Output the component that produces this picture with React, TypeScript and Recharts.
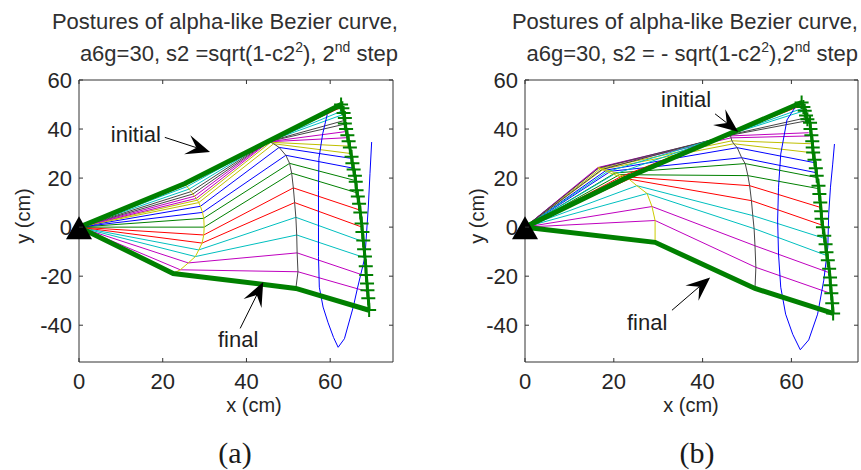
import React from 'react';
import { ComposedChart, Line, XAxis, YAxis, ReferenceLine, ReferenceDot } from 'recharts';

type P = [number, number];

// ---------- shared axis settings ----------
const xTicks = [0, 20, 40, 60];
const yTicks = [-40, -20, 0, 20, 40, 60];
const xDomain: [number, number] = [0, 75];
const yDomain: [number, number] = [-55, 60];

// MATLAB default colour letters
const matlab: Record<string, string> = {
  b: '#0000ff', g: '#008000', r: '#ff0000', c: '#00bfbf', m: '#bf00bf', y: '#bfbf00', k: '#454545',
};

const base: P = [0, 0];

// ---------- panel (a): s2 = +sqrt(1-c2^2) ----------
// intermediate postures, listed from bottom (near final) to top (near initial)
const colorsA = ['m', 'm', 'c', 'c', 'r', 'r', 'g', 'g', 'b', 'b', 'y', 'y', 'm', 'm', 'k', 'k', 'c', 'c', 'r'];
const joint1A: P[] = [
  [24.2, -17.4], [26.1, -14.6], [27.8, -12], [28.6, -9.3], [29.4, -6.5], [29.8, -3.2], [29.9, 0],
  [29.8, 3.6], [29.5, 6], [29, 8.5], [28.6, 10], [28.3, 11], [28, 11.7], [27.6, 12.6], [27.2, 13.5],
  [26.8, 14.5], [26.3, 15.5], [25.8, 16.5], [25.5, 17.2],
];
const joint2A: P[] = [
  [52.3, -18.2], [52.1, -10.5], [52, -3.2], [51.8, 4], [51.5, 10], [51.2, 16], [50.8, 22],
  [50.3, 26], [49.4, 29.3], [47.8, 32.5], [46.5, 34], [45.8, 34.6], [45.4, 34.8], [45.2, 34.8], [45.1, 34.8],
  [45, 34.8], [45, 34.8], [45, 34.8], [45, 34.8],
];
const endA: P[] = [
  [68.9, -26.3], [68.6, -20], [68.3, -12.5], [68, -6], [67.6, 0], [67, 7], [66.4, 14],
  [66, 19], [65.6, 24], [65.2, 28], [65, 30], [64.7, 33], [64.3, 36.5], [63.9, 39], [63.5, 42],
  [63.4, 43.5], [63.2, 46], [63, 47.5], [62.8, 49],
];
const initialA: P[] = [[0, 0], [25.3, 17.8], [45, 34.8], [62.6, 50]];
const finalA: P[] = [[0, 0], [22.5, -18.9], [51.8, -25], [69.3, -33.9]];
const endTraceA: P[] = [
  [62.6, 50], [62.9, 48.5], [63.2, 46.5], [63.5, 44.5], [63.5, 42.3], [63.8, 40], [64.1, 37.5],
  [64.4, 35], [64.7, 32.5], [65.1, 28.7], [65.3, 26], [65.6, 23.5], [65.9, 21], [66.1, 18.5],
  [66.3, 15], [66.6, 12.5], [66.9, 9.5], [67.2, 6], [67.5, 1.5], [67.7, -2], [67.9, -5.5],
  [68.1, -9], [68.3, -12], [68.5, -16], [68.6, -19.5], [68.8, -23], [68.9, -25.7], [69.1, -29], [69.3, -33.8],
];
const tipTraceA: P[] = [
  [59.3, 46], [58.2, 38], [57.3, 28], [57.2, 15], [57.2, 0], [57.2, -12], [57.4, -24.5], [58.3, -32.6],
  [59.5, -39], [60.8, -45], [61.9, -49], [63.4, -45.5], [65.5, -32.6], [66.5, -25], [68.3, -12.2],
  [69.1, 8.2], [69.5, 21.8], [69.9, 34.7],
];

// ---------- panel (b): s2 = -sqrt(1-c2^2) ----------
const colorsB = ['m', 'm', 'c', 'c', 'r', 'r', 'g', 'g', 'b', 'b', 'y', 'y', 'm', 'm', 'k', 'k', 'c', 'c', 'r'];
const joint1B: P[] = [
  [29.3, 2.7], [28.6, 8.4], [27.5, 13.7], [25.2, 16.9], [23.4, 19.6], [22.3, 20.6], [21.3, 21.4],
  [20.3, 22.1], [19.3, 22.8], [18.4, 23.3], [17.7, 23.7], [17.1, 24], [16.6, 24.2], [16.4, 24.3],
  [16.6, 24.1], [17.3, 23.5], [18.5, 22.6], [20, 21.5], [21.5, 20.5],
];
const joint2B: P[] = [
  [52, -16.4], [51.8, -7.6], [51.6, -0.6], [51.3, 4.7], [51, 10.8], [50.6, 16.9], [50.2, 21],
  [49.6, 25.9], [48.8, 28.3], [47.8, 32.4], [47, 34], [46.6, 35.2], [46.4, 36.4], [46.3, 37.2],
  [46.3, 37.5], [46.3, 37.7], [46.3, 37.9], [46.3, 38], [46.3, 38.2],
];
const endB: P[] = [
  [68.8, -27], [68.4, -18.5], [68, -11.6], [67.6, -4.7], [67.1, 0.7], [66.6, 8], [66.1, 15.7],
  [65.8, 20.2], [65.6, 22.2], [65.2, 26.3], [64.9, 30.3], [64.5, 34], [64.1, 37.2], [63.9, 38.5],
  [63.3, 43.3], [63.1, 44.5], [62.8, 47.4], [62.6, 48.5], [62.4, 49.7],
];
const initialB: P[] = [[0, 0], [22.5, 19.8], [46.3, 38.3], [62.3, 50.8]];
const finalB: P[] = [[0, 0], [29.3, -6.2], [51.8, -25], [69.4, -35.2]];
const endTraceB: P[] = [
  [62.3, 50.8], [62.7, 49], [63, 47.5], [63.3, 45.5], [63.6, 44], [64.2, 42.6], [64.3, 40],
  [64.5, 37.5], [64.7, 35], [64.8, 32.5], [64.9, 30.4], [65.2, 27.5], [65.5, 24], [65.7, 21],
  [66.1, 16.9], [66.3, 13.5], [66.5, 10], [66.7, 6.5], [66.8, 3.4], [67.1, 0], [67.4, -3.5],
  [67.7, -7], [67.9, -10.2], [68.2, -13.5], [68.5, -17], [68.7, -20.5], [68.8, -23.7], [69, -27],
  [69.2, -31], [69.4, -35.2],
];
const tipTraceB: P[] = [
  [61.6, 51], [59, 43.7], [57.6, 29.8], [57.1, 16.3], [56.9, 2.9], [57.1, -11], [57.6, -24.5],
  [58.7, -35.5], [60.3, -43.7], [62, -50], [63.9, -46], [65.9, -35.5], [67.3, -21.6], [68.2, -8.2],
  [68.4, 5.3], [68.8, 16.3], [69.3, 25.7], [69.7, 33.9],
];

// ---------- annotations (text position, arrow tail, arrow tip) ----------
type Note = { text: string; at: P; tail: P; tip: P };
const notesA: Note[] = [
  { text: 'initial', at: [13.6, 37.8], tail: [20.5, 36.6], tip: [31.3, 30.6] },
  { text: 'final', at: [38, -45.7], tail: [38.5, -41.3], tip: [44, -22.4] },
];
const notesB: Note[] = [
  { text: 'initial', at: [36.3, 52.3], tail: [42.8, 46.2], tip: [48, 38.9] },
  { text: 'final', at: [27.5, -38.7], tail: [33.1, -33.9], tip: [41.7, -20.5] },
];

const SANS = '"Liberation Sans", Arial, Helvetica, sans-serif';
const SERIF = '"Liberation Serif", "Times New Roman", serif';
const AXIS = '#333333';
const TEXT = '#262626';
const CHART_H = 470;
const X_TICK_MARGIN = 11;
const Y_TICK_MARGIN = 7;
const X_AXIS_H = 30;
const Y_AXIS_W = 60;

const toPts = (arr: P[]) => arr.map(([x, y]) => ({ x, y }));

const renderXTick = (p: any) => {
  const axisY = p.y - X_TICK_MARGIN;
  return (
    <g>
      <line x1={p.x} x2={p.x} y1={axisY} y2={axisY - 4} stroke={AXIS} />
      <text x={p.x} y={p.y} dy={16} textAnchor="middle" fontSize={22} fill={TEXT} fontFamily={SANS}>
        {p.payload.value}
      </text>
    </g>
  );
};
const renderYTick = (p: any) => {
  const axisX = p.x + Y_TICK_MARGIN;
  return (
    <g>
      <line x1={axisX} x2={axisX + 4} y1={p.y} y2={p.y} stroke={AXIS} />
      <text x={p.x} y={p.y} dy={7.8} textAnchor="end" fontSize={22} fill={TEXT} fontFamily={SANS}>
        {p.payload.value}
      </text>
    </g>
  );
};

const plusDot = (p: any) => {
  const { cx, cy, index } = p;
  if (cx == null || cy == null) return <g key={`pl${index}`} />;
  return (
    <path key={`pl${index}`} d={`M${cx - 7},${cy}h14M${cx},${cy - 7}v14`} stroke="#008000" strokeWidth={2} fill="none" />
  );
};
const triangleShape = (p: any) => {
  const { cx, cy } = p;
  if (cx == null || cy == null) return <g />;
  return <path d={`M${cx},${cy - 11}L${cx + 13},${cy + 12}L${cx - 13},${cy + 12}Z`} fill="#000" />;
};

const arrowShape = (p: any) => {
  const { x1, y1, x2, y2 } = p;
  const dx = x2 - x1;
  const dy = y2 - y1;
  const len = Math.hypot(dx, dy) || 1;
  const ux = dx / len;
  const uy = dy / len;
  const nx = -uy;
  const ny = ux;
  const L = 24;
  const W = 10;
  const notchX = x2 - ux * L * 0.6;
  const notchY = y2 - uy * L * 0.6;
  const bx = x2 - ux * L;
  const by = y2 - uy * L;
  const d = `M${x2},${y2}L${bx + nx * W},${by + ny * W}L${notchX},${notchY}L${bx - nx * W},${by - ny * W}Z`;
  return (
    <g>
      <line x1={x1} y1={y1} x2={notchX} y2={notchY} stroke="#000" strokeWidth={1} />
      <path d={d} fill="#000" />
    </g>
  );
};

type Margin = { top: number; right: number; bottom: number; left: number };
type PanelProps = {
  left: number;
  width: number;
  margin: Margin;
  colors: string[];
  j1: P[];
  j2: P[];
  ends: P[];
  initial: P[];
  final: P[];
  endTrace: P[];
  tipTrace: P[];
  notes: Note[];
};

function Panel(props: PanelProps) {
  const { left, width, margin, colors, j1, j2, ends, initial, final, endTrace, tipTrace, notes } = props;
  const joint1Trace = [initial[1], ...[...j1].reverse(), final[1]];
  const joint2Trace = [initial[2], ...[...j2].reverse(), final[2]];
  return (
    <div style={{ position: 'absolute', left, top: 0 }}>
      <ComposedChart width={width} height={CHART_H} margin={margin}>
        <XAxis
          type="number" dataKey="x" domain={xDomain} ticks={xTicks} interval={0}
          height={X_AXIS_H} tickSize={0} tickMargin={X_TICK_MARGIN} tick={renderXTick} tickLine={false}
          axisLine={{ stroke: AXIS }} allowDataOverflow
        />
        <YAxis
          type="number" dataKey="y" domain={yDomain} ticks={yTicks} interval={0}
          width={Y_AXIS_W} tickSize={0} tickMargin={Y_TICK_MARGIN} tick={renderYTick} tickLine={false}
          axisLine={{ stroke: AXIS }} allowDataOverflow
        />
        {colors.map((c, i) => (
          <Line
            key={`posture-${i}`} name={`posture-${i}`} data={toPts([base, j1[i], j2[i], ends[i]])}
            dataKey="y" stroke={matlab[c]} strokeWidth={1} dot={false} isAnimationActive={false}
            type="linear" legendType="none"
          />
        ))}
        <Line name="joint1" data={toPts(joint1Trace)} dataKey="y" stroke="#cccc00" strokeWidth={1} dot={false} isAnimationActive={false} />
        <Line name="joint2" data={toPts(joint2Trace)} dataKey="y" stroke="#454545" strokeWidth={1} dot={false} isAnimationActive={false} />
        <Line name="tip" data={toPts(tipTrace)} dataKey="y" stroke="#0000ff" strokeWidth={1} dot={false} isAnimationActive={false} />
        <Line name="initial" data={toPts(initial)} dataKey="y" stroke="#008000" strokeWidth={5} dot={false} isAnimationActive={false} />
        <Line name="final" data={toPts(final)} dataKey="y" stroke="#008000" strokeWidth={5} dot={false} isAnimationActive={false} />
        <Line name="end" data={toPts(endTrace)} dataKey="y" stroke="#008000" strokeWidth={3} dot={plusDot} isAnimationActive={false} />
        <ReferenceDot x={base[0]} y={base[1]} r={12} shape={triangleShape} ifOverflow="visible" />
        {notes.map((n, i) => (
          <ReferenceLine
            key={`arrow-${i}`}
            segment={[{ x: n.tail[0], y: n.tail[1] }, { x: n.tip[0], y: n.tip[1] }]}
            shape={arrowShape}
            ifOverflow="visible"
          />
        ))}
        {notes.map((n, i) => (
          <ReferenceDot
            key={`note-${i}`} x={n.at[0]} y={n.at[1]} r={0} fill="none" stroke="none" ifOverflow="visible"
            label={{ value: n.text, position: 'center', fontSize: 22, fill: '#1e1e1e', fontFamily: SANS }}
          />
        ))}
      </ComposedChart>
    </div>
  );
}

// MATLAB-style box (top/right edges with inward ticks) drawn over each plot area
function BoxFrame({ left, width, margin }: { left: number; width: number; margin: Margin }) {
  const x0 = left + margin.left + Y_AXIS_W;
  const x1 = left + width - margin.right;
  const y0 = margin.top;
  const y1 = CHART_H - margin.bottom - X_AXIS_H;
  const px = (v: number) => x0 + ((v - xDomain[0]) / (xDomain[1] - xDomain[0])) * (x1 - x0);
  const py = (v: number) => y1 - ((v - yDomain[0]) / (yDomain[1] - yDomain[0])) * (y1 - y0);
  return (
    <g stroke={AXIS} strokeWidth={1} fill="none">
      <line x1={x0} y1={y0} x2={x1} y2={y0} />
      <line x1={x1} y1={y0} x2={x1} y2={y1} />
      {xTicks.map((t) => (
        <line key={`bt${t}`} x1={px(t)} x2={px(t)} y1={y0} y2={y0 + 4} />
      ))}
      {yTicks.map((t) => (
        <line key={`br${t}`} x1={x1 - 4} x2={x1} y1={py(t)} y2={py(t)} />
      ))}
    </g>
  );
}

const panelA = { left: 0, width: 430, margin: { top: 80, right: 37, bottom: 78, left: 19 } };
const panelB = { left: 430, width: 431, margin: { top: 80, right: 3, bottom: 78, left: 35 } };

export default function App() {
  return (
    <div style={{ position: 'absolute', left: 0, top: 0, width: 861, height: 470, background: '#fff', overflow: 'hidden' }}>
      <Panel
        {...panelA}
        colors={colorsA} j1={joint1A} j2={joint2A} ends={endA}
        initial={initialA} final={finalA} endTrace={endTraceA} tipTrace={tipTraceA} notes={notesA}
      />
      <Panel
        {...panelB}
        colors={colorsB} j1={joint1B} j2={joint2B} ends={endB}
        initial={initialB} final={finalB} endTrace={endTraceB} tipTrace={tipTraceB} notes={notesB}
      />
      <svg width={861} height={470} style={{ position: 'absolute', left: 0, top: 0, pointerEvents: 'none' }}>
        <BoxFrame {...panelA} />
        <BoxFrame {...panelB} />
        <g fontFamily={SANS} fill="#303030" fontSize={22}>
          <text x={398} y={29} textAnchor="end">Postures of alpha-like Bezier curve,</text>
          <text x={398} y={61} textAnchor="end">
            a6g=30, s2 =sqrt(1-c2<tspan fontSize={14} dy={-9}>2</tspan>
            <tspan dy={9}>), 2</tspan>
            <tspan fontSize={14} dy={-9}>nd</tspan>
            <tspan dy={9}> step</tspan>
          </text>
          <text x={858} y={29} textAnchor="end">Postures of alpha-like Bezier curve,</text>
          <text x={858} y={61} textAnchor="end">
            a6g=30, s2 = - sqrt(1-c2<tspan fontSize={14} dy={-9}>2</tspan>
            <tspan dy={9}>),2</tspan>
            <tspan fontSize={14} dy={-9}>nd</tspan>
            <tspan dy={9}> step</tspan>
          </text>
        </g>
        <g fontFamily={SANS} fill={TEXT} fontSize={20}>
          <text x={254} y={412} textAnchor="middle">x (cm)</text>
          <text x={691} y={412} textAnchor="middle">x (cm)</text>
          <text x={30} y={216} textAnchor="middle" transform="rotate(-90 30 216)">y (cm)</text>
          <text x={484} y={216} textAnchor="middle" transform="rotate(-90 484 216)">y (cm)</text>
        </g>
        <g fontFamily={SERIF} fill="#1a1a1a" fontSize={30}>
          <text x={235} y={463} textAnchor="middle">(a)</text>
          <text x={697} y={463} textAnchor="middle">(b)</text>
        </g>
      </svg>
    </div>
  );
}
